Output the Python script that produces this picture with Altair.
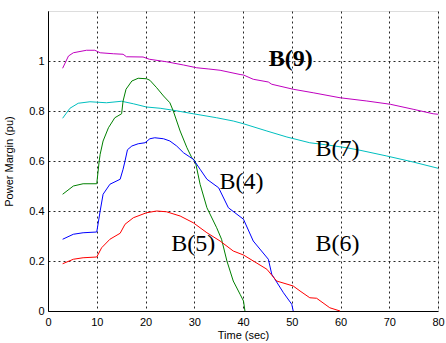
import altair as alt
import pandas as pd

# Series data (Time in sec, Power Margin in pu)
b9_x = [3, 4.2, 5.2, 7.9, 9.6, 10.7, 13.4, 15.4, 16.1, 19.5, 20.8, 24.3, 27.8, 30.5, 33, 35.3, 39.4, 40.1, 42.1, 45.2, 45.9, 50.3, 54.4, 59.9, 65.4, 70.2, 74.9, 79, 80]
b9_y = [0.971, 1.02, 1.033, 1.043, 1.043, 1.033, 1.029, 1.027, 1.017, 1.016, 1.007, 0.997, 0.984, 0.973, 0.968, 0.963, 0.946, 0.944, 0.927, 0.916, 0.907, 0.887, 0.873, 0.853, 0.84, 0.827, 0.807, 0.789, 0.787]

b7_x = [3, 4.5, 6.2, 8.6, 12, 15.1, 17.5, 20.2, 23, 25.7, 29.8, 34.6, 38, 40.1, 44.9, 49, 53.7, 57, 61.3, 64, 69.5, 74.9, 80]
b7_y = [0.771, 0.811, 0.831, 0.837, 0.833, 0.839, 0.829, 0.816, 0.811, 0.803, 0.789, 0.773, 0.76, 0.749, 0.72, 0.696, 0.673, 0.665, 0.653, 0.643, 0.62, 0.596, 0.571]

g_x = [3, 5.2, 7.2, 10, 10.5, 10.7, 11.3, 12.4, 13.7, 15.1, 15.4, 16, 17.2, 18.5, 20.2, 20.9, 22.3, 23.7, 25, 25.7, 27.1, 28.5, 29.5, 30.2, 31.2, 32.6, 34.6, 35.6, 36.7, 38, 39.4, 40.1, 40.4]
g_y = [0.467, 0.50, 0.509, 0.509, 0.60, 0.627, 0.68, 0.733, 0.773, 0.789, 0.84, 0.887, 0.92, 0.931, 0.929, 0.923, 0.893, 0.86, 0.833, 0.80, 0.72, 0.653, 0.613, 0.60, 0.507, 0.413, 0.333, 0.287, 0.20, 0.12, 0.067, 0.04, 0.0]

b4_x = [3, 5.2, 7.2, 10, 10.7, 11.3, 12.7, 14.8, 15.4, 15.8, 16.3, 17.2, 18.5, 19.9, 20.9, 21.9, 23.7, 25, 26.4, 27.8, 29.1, 29.8, 31.2, 32.6, 35, 37, 40.1, 42.1, 45.2, 45.9, 48.3, 50, 50.3]
b4_y = [0.287, 0.307, 0.313, 0.316, 0.40, 0.467, 0.507, 0.527, 0.567, 0.60, 0.645, 0.66, 0.669, 0.673, 0.689, 0.693, 0.689, 0.68, 0.66, 0.633, 0.616, 0.607, 0.567, 0.527, 0.493, 0.413, 0.367, 0.28, 0.207, 0.147, 0.073, 0.027, 0.0]

r_x = [3, 5.2, 7.2, 10, 11, 12.7, 14.8, 15.8, 17.5, 20.2, 22.3, 24.3, 27.1, 29.8, 32.6, 35.3, 38, 40.1, 44.9, 46.9, 50.3, 51.7, 53.7, 55.1, 57.8, 59.9]
r_y = [0.189, 0.207, 0.213, 0.216, 0.253, 0.287, 0.311, 0.347, 0.373, 0.393, 0.40, 0.397, 0.38, 0.353, 0.313, 0.28, 0.24, 0.224, 0.167, 0.12, 0.10, 0.08, 0.053, 0.051, 0.013, 0.0]

series_names = ["m", "c", "g", "b", "r"]
series_colors = ["#c000c0", "#00bfbf", "#008000", "#0000ff", "#ff0000"]

label_text = ["B(9)", "B(7)", "B(4)", "B(5)", "B(6)"]
label_x = [49.8, 59.4, 39.7, 29.8, 59.4]
label_y = [1.008, 0.648, 0.517, 0.269, 0.269]
label_bold = [True, False, False, False, False]

x_ticks = [0, 10, 20, 30, 40, 50, 60, 70, 80]
y_ticks = [0, 0.2, 0.4, 0.6, 0.8, 1.0]

rows = []
for name, xs, ys in zip(series_names, [b9_x, b7_x, g_x, b4_x, r_x], [b9_y, b7_y, g_y, b4_y, r_y]):
    for i, (xv, yv) in enumerate(zip(xs, ys)):
        rows.append({"series": name, "t": xv, "pm": yv, "i": i})
df = pd.DataFrame(rows)
lab = pd.DataFrame({"text": label_text, "t": label_x, "pm": label_y, "bold": label_bold})

xscale = alt.Scale(domain=[0, 80], nice=False)
yscale = alt.Scale(domain=[0, 1.2], nice=False)

common_axis = dict(grid=True, gridDash=[2, 3], gridColor="black", gridOpacity=0.85,
                   tickSize=0, labelFlush=False, domainColor="black",
                   labelFont="Liberation Sans", labelFontSize=11,
                   labelColor="black", titleFont="Liberation Sans", titleFontSize=11,
                   titleFontWeight="normal", titleColor="black")

lines = alt.Chart(df).mark_line(strokeWidth=1, interpolate="linear").encode(
    x=alt.X("t:Q", scale=xscale,
            axis=alt.Axis(title="Time (sec)", values=x_ticks, format="d",
                          labelPadding=5, titlePadding=2, **common_axis)),
    y=alt.Y("pm:Q", scale=yscale,
            axis=alt.Axis(title="Power Margin (pu)", values=y_ticks, format="~g",
                          labelPadding=4, titleX=-34, titleY=150, **common_axis)),
    color=alt.Color("series:N", scale=alt.Scale(domain=series_names, range=series_colors), legend=None),
    detail="series:N",
    order="i:Q",
)

text_base = alt.Chart(lab).encode(
    x=alt.X("t:Q", scale=xscale), y=alt.Y("pm:Q", scale=yscale), text="text:N",
)
texts_normal = text_base.mark_text(font="Liberation Serif", fontSize=24, color="black",
                                   align="center", baseline="middle").transform_filter("!datum.bold")
texts_bold = text_base.mark_text(font="Liberation Serif", fontSize=24, color="black", fontWeight="bold",
                                 align="center", baseline="middle").transform_filter("datum.bold")

chart = alt.layer(lines, texts_normal, texts_bold).properties(
    width=390, height=300,
    autosize=alt.AutoSizeParams(type="none"),
    padding={"left": 48, "top": 11, "right": 8, "bottom": 32},
).configure_view(stroke="black", strokeWidth=1).configure(background="white")

chart.save("out.html", embed_options={"renderer": "svg", "actions": False})
